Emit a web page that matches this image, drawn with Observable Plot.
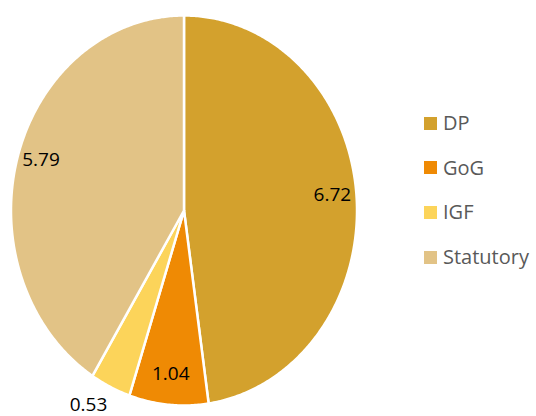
<!DOCTYPE html>
<html>
<head>
<meta charset="utf-8">
<script src="https://cdn.jsdelivr.net/npm/d3@7"></script>
<script src="https://cdn.jsdelivr.net/npm/@observablehq/plot@0.6"></script>
<style>
  html, body { margin: 0; padding: 0; background: #fff; }
  #wrap { position: relative; width: 536px; height: 416px; }
  #legend { position: absolute; left: 424px; top: 0; font-family: "Open Sans", sans-serif; font-size: 20px; color: #595959; }
  .item { position: absolute; left: 0; display: flex; align-items: center; white-space: nowrap; line-height: 20px; }
  .sw { width: 13px; height: 13px; margin-right: 6px; }
</style>
</head>
<body>
<div id="wrap"><div id="chart"></div><div id="legend"></div></div>
<script>
const categories = ["DP", "GoG", "IGF", "Statutory"];
const values = [6.72, 1.04, 0.53, 5.79];
const labels = ["6.72", "1.04", "0.53", "5.79"];
const colors = ["#D3A12D", "#EF8A04", "#FCD45A", "#E2C386"];

const arcs = d3.pie().sort(null).value(d => d)(values);
// slice outlines in unit coordinates (angle 0 = top, clockwise)
const pts = [];
arcs.forEach((a, i) => {
  const n = Math.max(4, Math.ceil((a.endAngle - a.startAngle) / 0.01));
  pts.push({cat: categories[i], x: 0, y: 0});
  for (let k = 0; k <= n; k++) {
    const t = a.startAngle + (a.endAngle - a.startAngle) * k / n;
    pts.push({cat: categories[i], x: Math.sin(t), y: Math.cos(t)});
  }
  pts.push({cat: categories[i], x: 0, y: 0});
});
const labelData = arcs.map((a, i) => {
  const m = (a.startAngle + a.endAngle) / 2;
  const outside = values[i] / d3.sum(values) < 0.05;
  const r = outside ? 1.12 : 0.86;
  return {text: labels[i], x: Math.sin(m) * r, y: Math.cos(m) * r, outside};
});

const plot = Plot.plot({
  width: 536, height: 416,
  marginTop: 0, marginRight: 0, marginBottom: 0, marginLeft: 0,
  x: {domain: [-1, 1], range: [10.5, 356.5], axis: null},
  y: {domain: [-1, 1], range: [405, 15], axis: null},
  color: {domain: categories, range: colors},
  style: {background: "#fff", overflow: "visible"},
  marks: [
    Plot.line(pts, {x: "x", y: "y", z: "cat", fill: "cat", stroke: "#fff", strokeWidth: 2.5, strokeLinejoin: "round"}),
    Plot.text(labelData.filter(d => !d.outside), {x: "x", y: "y", text: "text", fill: "#000", fontSize: 19, fontFamily: "'Open Sans', sans-serif", dy: -4}),
    Plot.text(labelData.filter(d => d.outside), {x: "x", y: "y", text: "text", fill: "#000", fontSize: 19, fontFamily: "'Open Sans', sans-serif", dx: -13, dy: -3})
  ]
});
document.getElementById("chart").appendChild(plot);

const legend = document.getElementById("legend");
categories.forEach((c, i) => {
  const it = document.createElement("div");
  it.className = "item";
  it.style.top = (113 + i * 44.7) + "px";
  it.innerHTML = `<span class="sw" style="background:${colors[i]}"></span><span>${c}</span>`;
  legend.appendChild(it);
});
</script>
</body>
</html>
